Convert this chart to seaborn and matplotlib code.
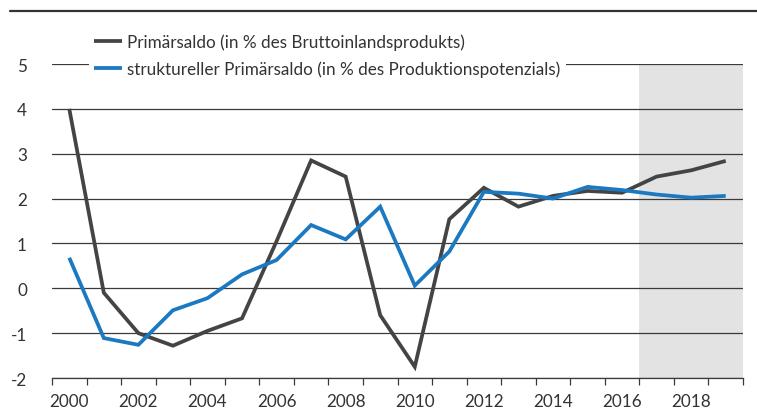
import numpy as np
import pandas as pd
import matplotlib
matplotlib.use("Agg")
import matplotlib.pyplot as plt
import seaborn as sns
from matplotlib.lines import Line2D
from matplotlib.ticker import FixedLocator, NullFormatter, FixedFormatter

# --- data -------------------------------------------------------------
years = list(range(2000, 2020))
primaersaldo = [4.0, -0.1, -1.0, -1.28, -0.95, -0.67, 1.05, 2.85, 2.49, -0.6,
                -1.75, 1.54, 2.24, 1.82, 2.06, 2.17, 2.13, 2.49, 2.63, 2.84]
struktureller_primaersaldo = [0.68, -1.11, -1.26, -0.49, -0.22, 0.31, 0.63, 1.41, 1.09, 1.82,
                              0.06, 0.82, 2.15, 2.11, 2.0, 2.26, 2.19, 2.09, 2.02, 2.06]
series_labels = ["Primärsaldo (in % des Bruttoinlandsprodukts)",
                 "struktureller Primärsaldo (in % des Produktionspotenzials)"]
forecast_start = 2017
y_ticks = [-2, -1, 0, 1, 2, 3, 4, 5]
x_label_years = [2000, 2002, 2004, 2006, 2008, 2010, 2012, 2014, 2016, 2018]

df = pd.DataFrame({
    "Jahr": years * 2,
    "Wert": primaersaldo + struktureller_primaersaldo,
    "Reihe": [series_labels[0]] * len(years) + [series_labels[1]] * len(years),
})

# --- style ------------------------------------------------------------
sns.set_theme(style="white")
plt.rcParams["font.family"] = ["Lato", "DejaVu Sans"]
text_color = "#333333"
grid_color = "#3a3a3a"

W, H = 757, 410
fig = plt.figure(figsize=(W / 100, H / 100), dpi=100)
ax = fig.add_axes([52 / W, 1 - 379 / H, (743 - 52) / W, (379 - 65) / H])

# forecast period shading
ax.axvspan(forecast_start - 0.5, years[-1] + 0.5, color="#e3e3e3", lw=0, zorder=0.2)

sns.lineplot(data=df, x="Jahr", y="Wert", hue="Reihe", hue_order=series_labels,
             palette=["#444444", "#1a79c0"], linewidth=2.7, ax=ax, legend=True,
             zorder=3)
for ln in ax.get_lines():
    ln.set_solid_capstyle("butt")
    ln.set_solid_joinstyle("miter")

ax.set_xlim(years[0] - 0.5, years[-1] + 0.5)
ax.set_ylim(y_ticks[0], y_ticks[-1])

# horizontal grid
ax.set_axisbelow(True)
ax.yaxis.set_major_locator(FixedLocator(y_ticks))
ax.grid(axis="y", color=grid_color, lw=0.9)
ax.grid(axis="x", visible=False)
ax.set_yticklabels([str(v) for v in y_ticks])
ax.tick_params(axis="y", length=0, pad=18, labelsize=12.3, labelcolor=text_color)

# x ticks at year boundaries, labels centered on even years
ax.xaxis.set_major_locator(FixedLocator([y - 0.5 for y in years] + [years[-1] + 0.5]))
ax.xaxis.set_major_formatter(NullFormatter())
ax.xaxis.set_minor_locator(FixedLocator(x_label_years))
ax.xaxis.set_minor_formatter(FixedFormatter([str(y) for y in x_label_years]))
ax.tick_params(axis="x", which="major", direction="out", length=5, width=0.9,
               color=grid_color, bottom=True)
ax.tick_params(axis="x", which="minor", length=0, pad=11, labelsize=12.3,
               labelcolor=text_color, bottom=True)

for side in ["left", "right", "top"]:
    ax.spines[side].set_visible(False)
ax.spines["bottom"].set_color(grid_color)
ax.spines["bottom"].set_linewidth(0.9)
ax.set_xlabel("")
ax.set_ylabel("")

# legend
handles, labels = ax.get_legend_handles_labels()
leg = ax.legend(handles, labels, loc="upper left",
                bbox_to_anchor=(89 / W, 1 - 29 / H), bbox_transform=fig.transFigure,
                frameon=True, facecolor="white", edgecolor="none", framealpha=1,
                fontsize=12.3, handlelength=1.65, handletextpad=0.3,
                labelspacing=0.6, borderpad=0.3, borderaxespad=0)
for t in leg.get_texts():
    t.set_color(text_color)
for h in leg.get_lines():
    h.set_linewidth(2.7)
leg.set_zorder(5)

# rule along the top of the figure
fig.add_artist(Line2D([10 / W, 1.0], [1 - 12 / H, 1 - 12 / H],
                      transform=fig.transFigure, color="#333333", lw=1.6))

fig.savefig("out.png", dpi=100)
